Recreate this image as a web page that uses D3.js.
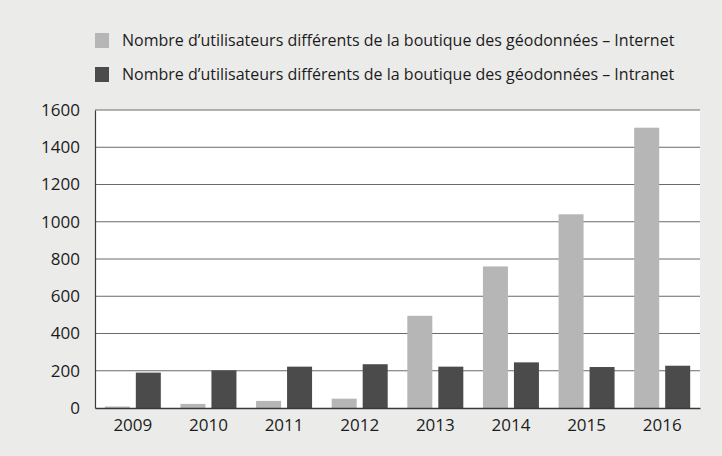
<!DOCTYPE html>
<html>
<head>
<meta charset="utf-8">
<script src="https://cdn.jsdelivr.net/npm/d3@7"></script>
<style>
  body { margin: 0; background: #ebebea; }
  svg { display: block; font-family: "Open Sans", "Noto Sans", sans-serif; }
</style>
</head>
<body>
<div id="chart"></div>
<script>
var years = ["2009", "2010", "2011", "2012", "2013", "2014", "2015", "2016"];
var internet = [8, 22, 38, 50, 495, 760, 1040, 1505];
var intranet = [190, 202, 222, 235, 222, 245, 220, 227];
var seriesNames = [
  "Nombre d\u2019utilisateurs différents de la boutique des géodonnées \u2013 Internet",
  "Nombre d\u2019utilisateurs différents de la boutique des géodonnées \u2013 Intranet"
];
var seriesColors = ["#b6b6b6", "#4b4b4b"];
var yTicks = [0, 200, 400, 600, 800, 1000, 1200, 1400, 1600];

var width = 722, height = 456;
var m = {t: 110, r: 22, b: 48, l: 95};

var svg = d3.select("#chart").append("svg")
    .attr("width", width)
    .attr("height", height);

svg.append("rect")
    .attr("width", width).attr("height", height)
    .attr("fill", "#ebebea");

var x = d3.scaleBand()
    .domain(years)
    .range([m.l, width - m.r])
    .paddingInner(0)
    .paddingOuter(0);

var y = d3.scaleLinear()
    .domain([0, 1600])
    .range([height - m.b, m.t]);

// white plot area
svg.append("rect")
    .attr("x", m.l).attr("y", y(1600))
    .attr("width", width - m.r - m.l)
    .attr("height", y(0) - y(1600))
    .attr("fill", "#ffffff");

// gridlines
svg.append("g")
    .selectAll("line")
    .data(yTicks.slice(1))
    .enter()
    .append("line")
    .attr("x1", m.l).attr("x2", width - m.r)
    .attr("y1", function(d) { return y(d); })
    .attr("y2", function(d) { return y(d); })
    .attr("stroke", "#6a6a6a")
    .attr("stroke-width", 1);

// bars
var barW = 25, gap = 6;
var rows = years.map(function(yr, i) { return {year: yr, vals: [internet[i], intranet[i]]}; });

var groups = svg.append("g").selectAll("g")
    .data(rows)
    .enter()
    .append("g")
    .attr("transform", function(d) {
        var off = (x.bandwidth() - 2 * barW - gap) / 2;
        return "translate(" + (x(d.year) + off) + ",0)";
    });

groups.selectAll("rect")
    .data(function(d) { return d.vals; })
    .enter()
    .append("rect")
    .attr("x", function(d, i) { return i * (barW + gap); })
    .attr("y", function(d) { return y(d); })
    .attr("width", barW)
    .attr("height", function(d) { return y(0) - y(d); })
    .attr("fill", function(d, i) { return seriesColors[i]; });

// axes
var yAxis = svg.append("g")
    .attr("transform", "translate(" + m.l + ",0)")
    .call(d3.axisLeft(y).tickValues(yTicks).tickFormat(d3.format("d")).tickSize(0).tickPadding(15));
yAxis.select(".domain").attr("stroke", "#3a3a3a").attr("stroke-width", 1.2);
yAxis.selectAll("text").attr("font-size", 17).attr("fill", "#1c1c1c")
    .attr("font-family", "Open Sans, sans-serif");

var xAxis = svg.append("g")
    .attr("transform", "translate(0," + y(0) + ")")
    .call(d3.axisBottom(x).tickSize(0).tickPadding(11));
xAxis.select(".domain").attr("stroke", "#3a3a3a").attr("stroke-width", 1.5);
xAxis.selectAll("text").attr("font-size", 17).attr("fill", "#1c1c1c")
    .attr("font-family", "Open Sans, sans-serif");

// legend
var legend = svg.append("g")
    .selectAll("g")
    .data(seriesNames)
    .enter()
    .append("g")
    .attr("transform", function(d, i) { return "translate(95," + (33 + i * 34) + ")"; });

legend.append("rect")
    .attr("width", 14).attr("height", 15)
    .attr("fill", function(d, i) { return seriesColors[i]; });

legend.append("text")
    .attr("x", 27).attr("y", 7.5)
    .attr("dy", "0.35em")
    .attr("font-size", 16)
    .attr("fill", "#1c1c1c")
    .text(function(d) { return d; });
</script>
</body>
</html>
